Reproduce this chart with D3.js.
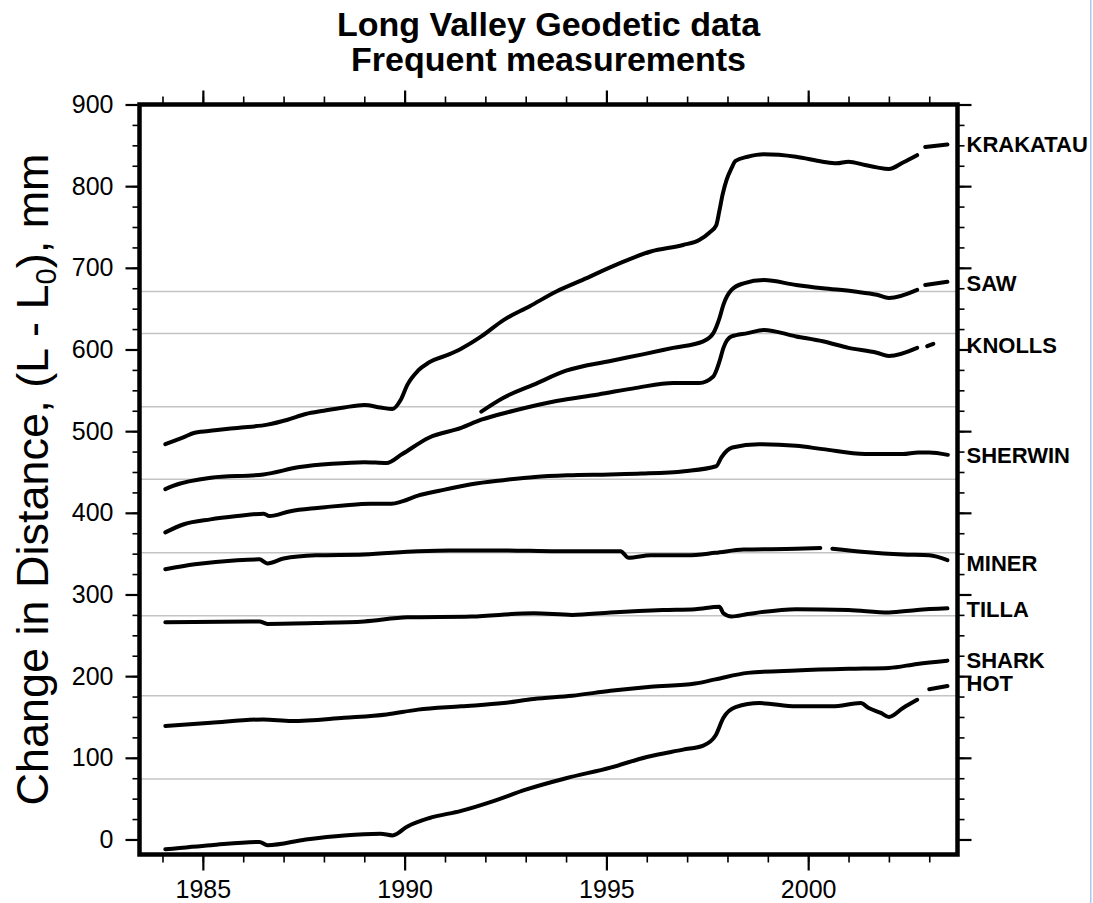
<!DOCTYPE html>
<html>
<head>
<meta charset="utf-8">
<script src="https://cdn.jsdelivr.net/npm/d3@7"></script>
<style>
  body { margin: 0; background: #fff; }
  svg { display: block; font-family: "Liberation Sans", Arial, Helvetica, sans-serif; }
</style>
</head>
<body>
<svg width="1093" height="903"></svg>
<script>
// station series: [year, change in mm]; null = gap in the record
var krakatau = [[1984.07,484],[1984.5,492],[1984.8,498],[1985.3,501],[1985.85,504],[1986.6,508],[1987.1,514],[1987.55,521],
  [1988.0,525],[1988.5,529],[1989.0,532],[1989.4,529],[1989.7,527],[1989.9,538],[1990.07,557],[1990.33,574],[1990.6,584],
  [1991.1,594],[1991.4,601],[1991.9,616],[1992.45,636],[1993.1,653],[1993.76,671],[1994.4,685],[1995.35,706],[1996.1,720],
  [1996.9,728],[1997.3,734],[1997.55,743],[1997.72,752],[1997.8,770],[1997.88,790],[1997.98,808],[1998.1,822],[1998.2,831],
  [1998.5,836],[1998.9,839],[1999.7,836],[2000.36,830],[2000.7,828],[2001.0,830],[2001.4,826],[2001.7,823],[2002.0,821],
  [2002.35,829],[2002.7,838],null,[2002.9,848],[2003.45,851]];
var saw = [[1991.9,524],[1992.45,541],[1993.2,557],[1994.0,574],[1995.1,586],[1995.9,594],[1996.65,602],[1997.4,610],
  [1997.65,620],[1997.8,638],[1997.9,655],[1998.1,673],[1998.4,681],[1998.9,685],[1999.7,679],[2000.36,675],[2001.15,671],
  [2001.7,667],[2002.0,663],[2002.7,673],null,[2002.9,679],[2003.45,683]];
var knolls = [[1984.07,429],[1984.26,433],[1985.2,443],[1986.5,447],[1987.4,456],[1988.2,460],[1989.0,462],[1989.55,461],
  [1989.94,472],[1990.6,492],[1991.4,504],[1991.9,514],[1992.7,525],[1993.76,537],[1994.8,545],[1995.74,553],[1996.66,559],
  [1997.3,559],[1997.65,567],[1997.8,585],[1997.9,602],[1998.1,616],[1998.5,620],[1998.9,624],[1999.7,616],[2000.36,610],
  [2001.0,602],[2001.7,596],[2002.0,592],[2002.7,602],null,[2002.95,604],[2003.1,607]];
var sherwin = [[1984.07,376],[1984.53,386],[1985.19,392],[1985.85,396],[1986.51,399],[1986.65,396],[1987.17,402],[1987.83,406],
  [1988.49,409],[1989.15,411],[1989.67,411],[1989.94,414],[1990.33,421],[1990.86,427],[1991.65,435],[1992.44,440],[1993.23,444],
  [1994.03,446],[1995.08,447],[1995.87,448],[1996.93,451],[1997.72,457],[1997.85,468],[1998.12,480],[1998.78,484],[1999.7,482],
  [2000.36,478],[2001.41,472],[2002.34,472],[2002.73,474],[2003.0,474],[2003.46,471]];
var miner = [[1984.07,331],[1984.8,337],[1985.85,342],[1986.4,343],[1986.6,338],[1987.0,344],[1987.8,348],[1989.0,349],
  [1990.33,353],[1991.1,354],[1992.45,354],[1993.76,353],[1995.35,353],[1995.55,345],[1996.1,348],[1997.0,348],[1997.7,351],
  [1998.4,355],[1999.7,356],[2000.3,357],null,[2000.6,356],[2001.4,352],[2002.35,349],[2003.0,348],[2003.45,342]];
var tilla = [[1984.07,266],[1986.4,267],[1986.6,264],[1987.8,265],[1989.0,267],[1990.07,272],[1991.65,273],[1993.2,277],
  [1994.15,275],[1995.1,278],[1996.4,281],[1997.2,282],[1997.8,285],[1997.9,277],[1998.1,273],[1998.5,276],[1999.7,282],
  [2001.0,281],[2002.0,278],[2002.7,281],[2003.45,283]];
var shark = [[1984.07,139],[1985.2,143],[1986.5,147],[1987.2,145],[1988.5,149],[1989.55,153],[1990.33,159],[1991.4,163],
  [1992.45,167],[1993.2,172],[1994.15,176],[1995.1,182],[1996.1,187],[1997.2,191],[1997.7,196],[1998.5,204],[1999.7,207],
  [2001.0,209],[2002.0,210],[2002.7,215],[2003.45,219]];
var hot = [[1984.07,-12],[1985.2,-7],[1986.4,-3],[1986.6,-7],[1987.55,0],[1988.5,5],[1989.4,7],[1989.7,5],[1990.07,16],
  [1990.6,26],[1991.4,35],[1992.2,47],[1993.0,61],[1994.0,75],[1995.1,88],[1996.0,101],[1996.9,110],[1997.4,115],[1997.7,127],
  [1997.9,149],[1998.2,162],[1998.8,167],[1999.7,163],[2000.6,163],[2001.3,167],[2001.5,161],[2001.8,155],[2002.0,150],
  [2002.35,161],[2002.7,171],null,[2003.0,184],[2003.45,188]];

var series = [krakatau, saw, knolls, sherwin, miner, tilla, shark, hot];
var stationNames = ["KRAKATAU", "SAW", "KNOLLS", "SHERWIN", "MINER", "TILLA", "SHARK", "HOT"];
var labelValues = [852, 681, 605, 470.5, 338, 282, 220, 191];
var refLines = [671, 619.5, 530, 441, 351, 274, 176, 74];
var majorYears = [1985, 1990, 1995, 2000];
var minorYears = d3.range(1984, 2004);
var majorMm = d3.range(0, 901, 100);
var minorMm = d3.range(0, 901, 25);

var svg = d3.select("svg"),
    plotL = 139.5, plotR = 957.5, plotT = 104.5, plotB = 854.5;

var x = d3.scaleLinear().domain([1983.43, 2003.7]).range([plotL, plotR]);
var y = d3.scaleLinear().domain([-18.4, 900]).range([plotB, plotT]);

svg.append("defs").append("clipPath")
    .attr("id", "clip")
    .append("rect")
    .attr("x", plotL).attr("y", plotT)
    .attr("width", plotR - plotL).attr("height", plotB - plotT);

// title
svg.append("g")
    .attr("font-weight", "bold")
    .attr("font-size", "34px")
    .attr("text-anchor", "middle")
    .selectAll("text")
    .data(["Long Valley Geodetic data", "Frequent measurements"])
    .enter().append("text")
    .attr("x", (plotL + plotR) / 2)
    .attr("y", function (d, i) { return 36 + i * 35; })
    .text(function (d) { return d; });

// grey reference lines
svg.append("g")
    .selectAll("line")
    .data(refLines)
    .enter().append("line")
    .attr("x1", plotL).attr("x2", plotR)
    .attr("y1", function (d) { return y(d); })
    .attr("y2", function (d) { return y(d); })
    .attr("stroke", "#c4c4c4")
    .attr("stroke-width", 1.5);

function styleAxis(g, w) {
    g.select(".domain").remove();
    g.selectAll(".tick line").attr("stroke", "#000").attr("stroke-width", w);
    g.selectAll("text").attr("fill", "#000").attr("font-size", "25px");
}

// minor ticks on all sides
[[d3.axisBottom(x), "translate(0," + plotB + ")"], [d3.axisTop(x), "translate(0," + plotT + ")"]].forEach(function (a) {
    svg.append("g").attr("transform", a[1])
        .call(a[0].tickValues(minorYears).tickSize(8).tickFormat(""))
        .call(styleAxis, 1.6);
});
[[d3.axisLeft(y), "translate(" + plotL + ",0)"], [d3.axisRight(y), "translate(" + plotR + ",0)"]].forEach(function (a) {
    svg.append("g").attr("transform", a[1])
        .call(a[0].tickValues(minorMm).tickSize(7).tickFormat(""))
        .call(styleAxis, 1.6);
});

// major ticks
svg.append("g")
    .attr("transform", "translate(0," + plotB + ")")
    .call(d3.axisBottom(x).tickValues(majorYears).tickSize(16).tickPadding(10).tickFormat(d3.format("d")))
    .call(styleAxis, 2.2);
svg.append("g")
    .attr("transform", "translate(0," + plotT + ")")
    .call(d3.axisTop(x).tickValues(majorYears).tickSize(14).tickFormat(""))
    .call(styleAxis, 2.2);
svg.append("g")
    .attr("transform", "translate(" + plotL + ",0)")
    .call(d3.axisLeft(y).tickValues(majorMm).tickSize(14).tickPadding(12).tickFormat(d3.format("d")))
    .call(styleAxis, 2.2);
svg.append("g")
    .attr("transform", "translate(" + plotR + ",0)")
    .call(d3.axisRight(y).tickValues(majorMm).tickSize(14).tickFormat(""))
    .call(styleAxis, 2.2);

// data
var line = d3.line()
    .defined(function (d) { return d !== null; })
    .x(function (d) { return x(d[0]); })
    .y(function (d) { return y(d[1]); })
    .curve(d3.curveMonotoneX);

svg.append("g")
    .attr("clip-path", "url(#clip)")
    .selectAll("path")
    .data(series)
    .enter().append("path")
    .attr("fill", "none")
    .attr("stroke", "#000")
    .attr("stroke-width", 4)
    .attr("stroke-linejoin", "round")
    .attr("stroke-linecap", "round")
    .attr("d", line);

// frame
svg.append("rect")
    .attr("x", plotL).attr("y", plotT)
    .attr("width", plotR - plotL).attr("height", plotB - plotT)
    .attr("fill", "none")
    .attr("stroke", "#000")
    .attr("stroke-width", 4.5);

// station names
svg.append("g")
    .attr("font-weight", "bold")
    .attr("font-size", "22px")
    .selectAll("text")
    .data(stationNames)
    .enter().append("text")
    .attr("x", plotR + 9)
    .attr("y", function (d, i) { return y(labelValues[i]); })
    .attr("dy", "0.36em")
    .text(function (d) { return d; });

// y axis title
var ytitle = svg.append("text")
    .attr("transform", "translate(48," + ((plotT + plotB) / 2) + ")rotate(-90)")
    .attr("text-anchor", "middle")
    .attr("font-size", "45px");
ytitle.append("tspan").text("Change in Distance, (L - L");
ytitle.append("tspan").attr("font-size", "29px").attr("dy", "8").text("0");
ytitle.append("tspan").attr("dy", "-8").text("), mm");

// thin blue edge on the right of the picture
svg.append("rect")
    .attr("x", 1090).attr("y", 0)
    .attr("width", 1.5).attr("height", 903)
    .attr("fill", "#a9c8ee");
</script>
</body>
</html>
